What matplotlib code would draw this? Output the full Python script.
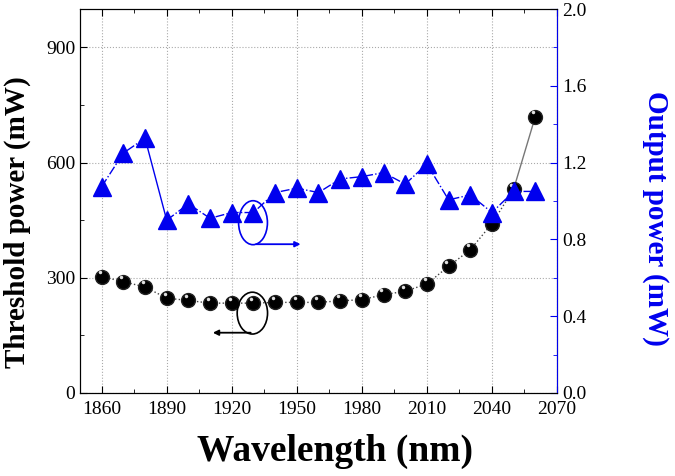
import numpy as np
import matplotlib
matplotlib.use("Agg")
import matplotlib.pyplot as plt
from matplotlib.patches import Ellipse
from matplotlib.ticker import MultipleLocator, FormatStrFormatter

plt.rcParams['font.family'] = ['Liberation Serif', 'DejaVu Serif']

# dane
dlugosc = [1860, 1870, 1880, 1890, 1900, 1910, 1920, 1930, 1940, 1950, 1960,
           1970, 1980, 1990, 2000, 2010, 2020, 2030, 2040, 2050, 2060]
prog = [303, 290, 276, 247, 241, 234, 234, 234, 236, 236, 236,
        240, 243, 256, 265, 284, 330, 373, 441, 531, 720]
moc_wyj = [1.075, 1.25, 1.327, 0.90, 0.985, 0.91, 0.94, 0.94, 1.044, 1.067, 1.044,
           1.115, 1.127, 1.148, 1.088, 1.193, 1.006, 1.032, 0.94, 1.05, 1.05]

niebieski = '#0000ee'

fig = plt.figure(figsize=(6.75, 4.76), dpi=100)
ax = fig.add_axes([0.1185, 0.1744, 0.7067, 0.8066])
ax2 = ax.twinx()

# prog - czarne kule
ax.plot(dlugosc[:-1], prog[:-1], ls=':', color='#444444', lw=1, zorder=2)
ax.plot(dlugosc[-2:], prog[-2:], ls='-', color='#777777', lw=1, zorder=2)
ax.plot(dlugosc, prog, ls='none', marker='o', ms=10, mfc='black', mec='#222222', zorder=3)
ax.plot(np.array(dlugosc) - 1.0, np.array(prog) + 12, ls='none', marker='o', ms=2.5,
        mfc='#e0e0e0', mec='none', zorder=4)

# moc wyjsciowa - niebieskie trojkaty
ax2.plot(dlugosc[:3], moc_wyj[:3], ls='-.', color=niebieski, lw=1)
ax2.plot(dlugosc[2:4], moc_wyj[2:4], ls='-', color=niebieski, lw=1)
ax2.plot(dlugosc[3:], moc_wyj[3:], ls='-.', color=niebieski, lw=1)
ax2.plot(dlugosc, moc_wyj, ls='none', marker='^', ms=12.5, mfc=niebieski, mec=niebieski)

# osie
ax.set_xlim(1850, 2070)
ax.set_ylim(0, 1000)
ax2.set_ylim(0, 2.0)
ax.xaxis.set_major_locator(MultipleLocator(30))
ax.xaxis.set_minor_locator(MultipleLocator(15))
ax.yaxis.set_major_locator(MultipleLocator(300))
ax.yaxis.set_minor_locator(MultipleLocator(150))
ax2.yaxis.set_major_locator(MultipleLocator(0.4))
ax2.yaxis.set_minor_locator(MultipleLocator(0.2))
ax2.yaxis.set_major_formatter(FormatStrFormatter('%.1f'))

ax.tick_params(axis='x', which='both', direction='in', top=True, labelsize=14, pad=6)
ax.tick_params(axis='y', which='both', direction='in', labelsize=14)
ax.tick_params(which='major', length=5)
ax.tick_params(which='minor', length=3)
ax2.tick_params(axis='y', which='both', direction='in', colors=niebieski, labelsize=14, labelcolor='black')
ax2.tick_params(which='major', length=5)
ax2.tick_params(which='minor', length=3)
ax2.spines['right'].set_color(niebieski)

ax.grid(True, which='major', ls=':', color='#aaaaaa', lw=0.8)

# podpisy osi
fig.text(335 / 675, 1 - 461 / 476, "Wavelength (nm)", fontsize=27, fontweight='bold',
         ha='center', va='baseline')
fig.text(17 / 675, 1 - 222 / 476, "Threshold power (mW)", fontsize=21, fontweight='bold',
         ha='center', va='center', rotation=90)
fig.text(656 / 675, 1 - 218 / 476, "Output power (mW)", fontsize=21, fontweight='bold',
         ha='center', va='center', rotation=270, color=niebieski)

# elipsy i strzalki
ax.add_patch(Ellipse((1929.5, 208), 14, 109, fill=False, ec='black', lw=1.2, zorder=5))
ax.annotate('', xy=(1910, 157), xytext=(1930, 157),
            arrowprops=dict(arrowstyle='-|>', color='black', lw=1.3, mutation_scale=8))
ax2.add_patch(Ellipse((1929.8, 0.887), 13.3, 0.229, fill=False, ec=niebieski, lw=1.2, zorder=5))
ax2.annotate('', xy=(1953, 0.775), xytext=(1930, 0.775),
             arrowprops=dict(arrowstyle='-|>', color=niebieski, lw=1.3, mutation_scale=8))

plt.savefig("out.png", dpi=100)
